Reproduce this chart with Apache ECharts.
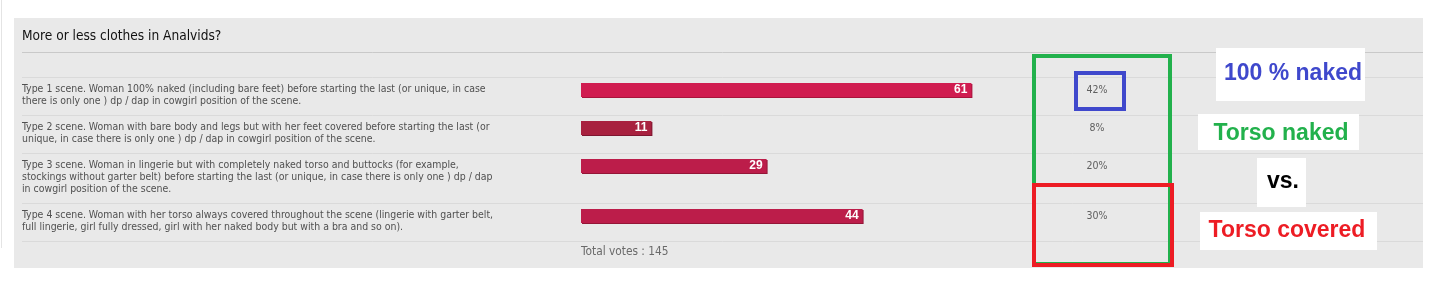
<!DOCTYPE html>
<html><head><meta charset="utf-8">
<script src="https://cdn.jsdelivr.net/npm/echarts@6.0.0/dist/echarts.min.js"></script>
<style>html,body{margin:0;padding:0;background:#fff}#c{width:1450px;height:288px}</style>
</head><body><div id="c"></div>
<script>
// ---- data ----
const chartTitle = 'More or less clothes in Analvids?';
const categories = [
  'Type 1 scene. Woman 100% naked (including bare feet) before starting the last (or unique, in case\nthere is only one ) dp / dap in cowgirl position of the scene.',
  'Type 2 scene. Woman with bare body and legs but with her feet covered before starting the last (or\nunique, in case there is only one ) dp / dap in cowgirl position of the scene.',
  'Type 3 scene. Woman in lingerie but with completely naked torso and buttocks (for example,\nstockings without garter belt) before starting the last (or unique, in case there is only one ) dp / dap\nin cowgirl position of the scene.',
  'Type 4 scene. Woman with her torso always covered throughout the scene (lingerie with garter belt,\nfull lingerie, girl fully dressed, girl with her naked body but with a bra and so on).'
];
const votes = [61, 11, 29, 44];
const percents = [42, 8, 20, 30];
const totalVotes = 145;
const annotationTexts = ['100 % naked', 'Torso naked', 'vs.', 'Torso covered'];

// ---- styles / layout ----
const BAR_COLORS = ['#d01c50', '#a8213f', '#bc1d4a', '#bc1d4a'];
const BAR_EDGE = ['#a8143c', '#7e1630', '#941537', '#941537'];
const FONT = '"DejaVu Sans Condensed", "Liberation Sans", sans-serif';
const LINE_H = 12;
const ROW_PAD = 14;
const FIRST_ROW_TOP = 77;
const TEXT_X = 22;
const BAR_LEFT = 581;
const BAR_AREA_W = 512;
const X_MAX = 80;
const PANEL_RIGHT = 1422;
const DESC_SIZE = 10.45;
const DESC_COLOR = '#505050';

const nLines = categories.map(c => c.split('\n').length);
const rowTops = [];
let yy = FIRST_ROW_TOP;
nLines.forEach(n => { rowTops.push(yy); yy += n * LINE_H + ROW_PAD; });
const lastLine = yy;

const grids = [], xAxes = [], yAxes = [], series = [];
categories.forEach((cat, i) => {
  const spacer = Math.max(1, nLines[i] * LINE_H - 14);
  const txtStyle = { fontSize: DESC_SIZE, lineHeight: LINE_H, color: DESC_COLOR, fontFamily: FONT, align: 'left' };
  grids.push({ left: BAR_LEFT, top: rowTops[i] + 6, width: BAR_AREA_W, height: 14 });
  xAxes.push({ gridIndex: i, type: 'value', min: 0, max: X_MAX, show: false });
  yAxes.push({
    gridIndex: i, type: 'category', data: [cat],
    axisLine: { show: false }, axisTick: { show: false },
    axisLabel: {
      align: 'left', margin: BAR_LEFT - TEXT_X, fontSize: DESC_SIZE, lineHeight: LINE_H,
      color: DESC_COLOR, fontFamily: FONT,
      formatter: v => '{s| }\n' + v.split('\n').map(l => '{t|' + l + '}').join('\n'),
      rich: {
        s: { height: spacer, lineHeight: spacer, fontSize: 1 },
        t: txtStyle
      }
    }
  });
  yAxes.push({
    gridIndex: i, type: 'category', position: 'right', data: [percents[i] + '%'],
    axisLine: { show: false }, axisTick: { show: false },
    axisLabel: { align: 'center', margin: 4, fontSize: 10.5, color: '#606060', fontFamily: FONT }
  });
  series.push({
    type: 'bar', xAxisIndex: i, yAxisIndex: 2 * i, data: [votes[i]], barWidth: 14,
    itemStyle: { color: BAR_COLORS[i], shadowColor: BAR_EDGE[i], shadowOffsetX: 1, shadowOffsetY: 1, shadowBlur: 0 },
    label: { show: true, position: 'insideRight', distance: 4, color: '#fff', fontWeight: 'bold',
      fontSize: 12, fontFamily: 'Arial, "Liberation Sans", sans-serif' },
    silent: true
  });
});

const graphic = [
  { type: 'line', shape: { x1: 1.5, y1: 0, x2: 1.5, y2: 248 }, style: { stroke: '#e4e4e4', lineWidth: 1 }, z: -10 },
  { type: 'rect', shape: { x: 14, y: 18, width: PANEL_RIGHT - 14 + 1, height: 250 }, style: { fill: '#e9e9e9' }, z: -10 },
  { type: 'line', shape: { x1: TEXT_X, y1: 52.5, x2: PANEL_RIGHT + 1, y2: 52.5 }, style: { stroke: '#c9c9c9', lineWidth: 1 }, z: -5 }
];
rowTops.concat([lastLine]).forEach(t => {
  graphic.push({ type: 'line', shape: { x1: TEXT_X, y1: t + 0.5, x2: PANEL_RIGHT + 1, y2: t + 0.5 }, style: { stroke: '#dadada', lineWidth: 1 }, z: -5 });
});
// annotation frames
graphic.push(
  { type: 'rect', shape: { x: 1034, y: 56, width: 136, height: 208 }, style: { fill: null, stroke: '#22b14c', lineWidth: 4 }, z: 50 },
  { type: 'rect', shape: { x: 1034, y: 185, width: 138, height: 80 }, style: { fill: null, stroke: '#ed1c24', lineWidth: 4 }, z: 51 },
  { type: 'rect', shape: { x: 1076, y: 73, width: 48, height: 36 }, style: { fill: null, stroke: '#3f48cc', lineWidth: 4 }, z: 52 }
);
const boxes = [
  { x: 1216, y: 48, w: 149, h: 53, cx: 1293, cy: 73.5, color: '#3f48cc' },
  { x: 1198, y: 114, w: 161, h: 36, cx: 1281, cy: 133.5, color: '#22b14c' },
  { x: 1257, y: 158, w: 49, h: 49, cx: 1283, cy: 182, color: '#000000' },
  { x: 1200, y: 212, w: 177, h: 38, cx: 1287, cy: 231, color: '#ed1c24' }
];
boxes.forEach((b, i) => {
  graphic.push({ type: 'rect', shape: { x: b.x, y: b.y, width: b.w, height: b.h }, style: { fill: '#ffffff' }, z: 60 });
  graphic.push({ type: 'text', x: b.cx, y: b.cy, z: 61,
    style: { text: annotationTexts[i], fill: b.color, font: 'bold 23px Arial, "Liberation Sans", sans-serif',
      textAlign: 'center', textVerticalAlign: 'middle', align: 'center', verticalAlign: 'middle' } });
});

const chart = echarts.init(document.getElementById('c'), null, { renderer: 'canvas' });
chart.setOption({
  animation: false,
  backgroundColor: '#ffffff',
  title: [
    { text: chartTitle, left: TEXT_X, top: 29, padding: 0,
      textStyle: { fontSize: 13.6, fontWeight: 'normal', color: '#111', fontFamily: FONT, lineHeight: 15 } },
    { text: 'Total votes : ' + totalVotes, left: BAR_LEFT, top: lastLine + 5, padding: 0,
      textStyle: { fontSize: 11.8, fontWeight: 'normal', color: '#6a6a6a', fontFamily: FONT, lineHeight: 12 } }
  ],
  grid: grids, xAxis: xAxes, yAxis: yAxes, series: series,
  graphic: graphic
});
</script></body></html>
